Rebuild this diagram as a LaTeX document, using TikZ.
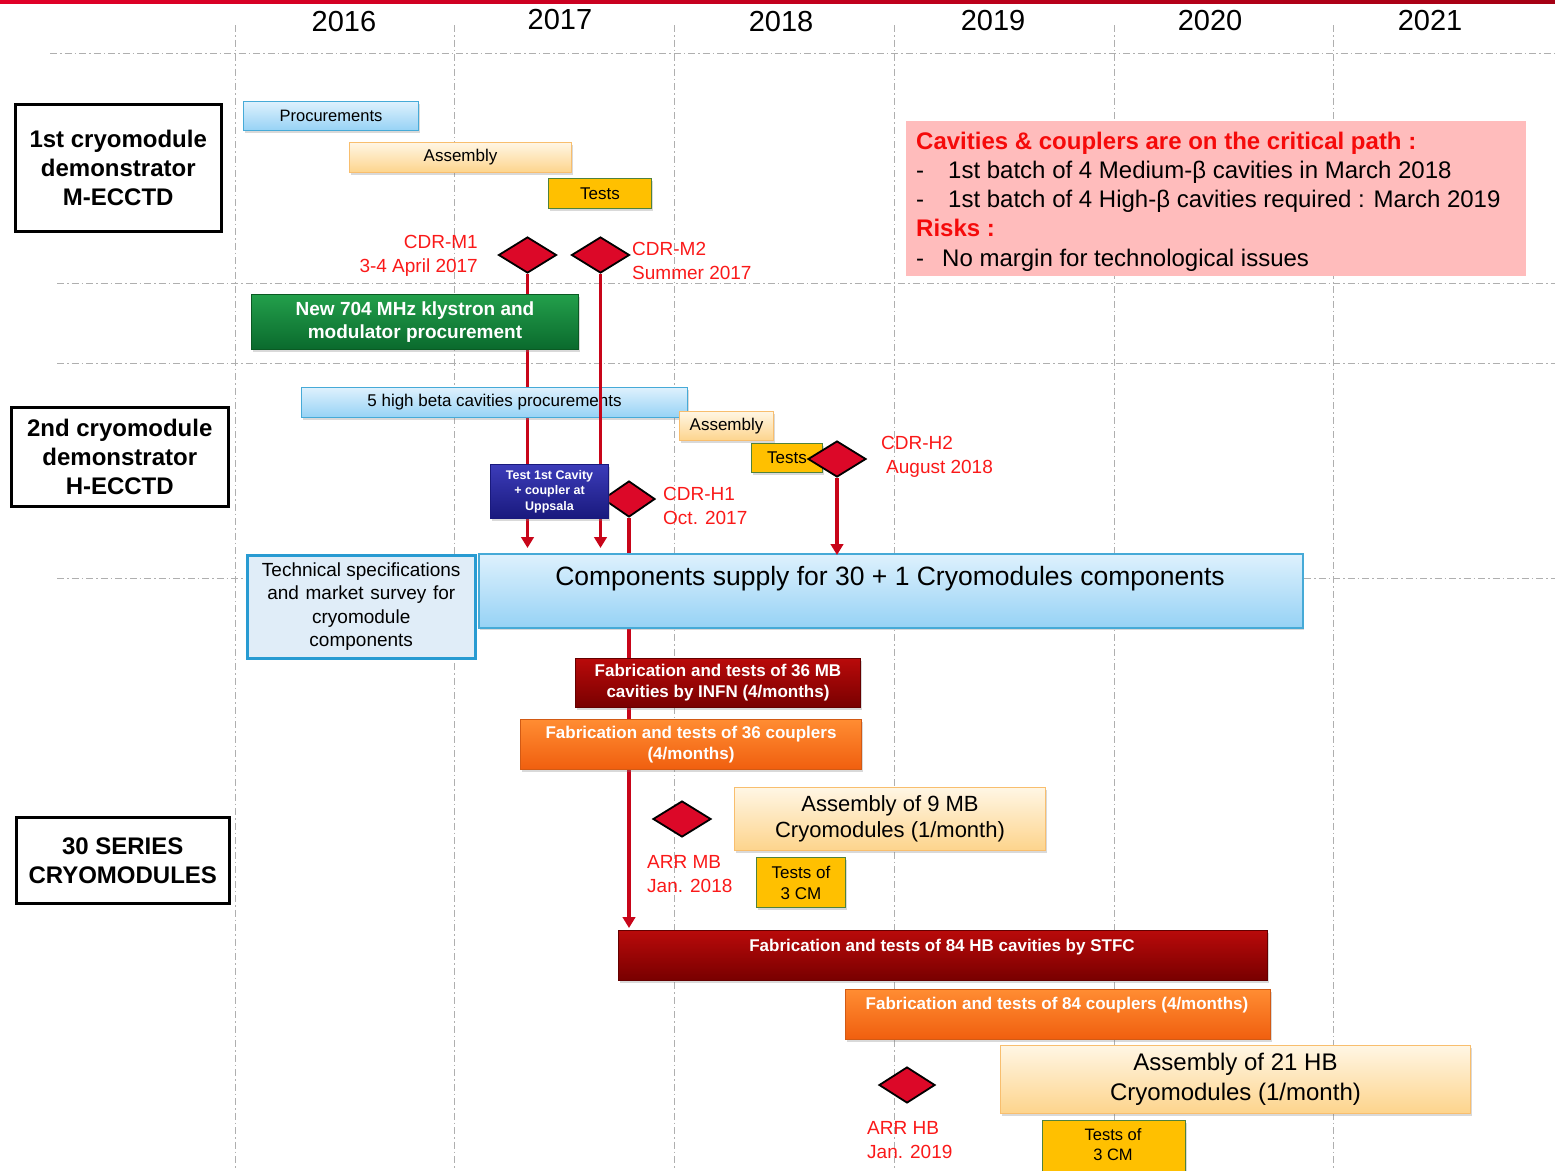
\documentclass[tikz,border=0pt]{standalone}
\usepackage{fontspec}
\setmainfont{Liberation Sans}
\usetikzlibrary{shapes.geometric,arrows.meta,shadows}
\definecolor{gridgray}{RGB}{175,175,175}
\definecolor{lbtop}{RGB}{222,241,253}
\definecolor{lbbot}{RGB}{150,210,245}
\definecolor{lbborder}{RGB}{70,170,215}
\definecolor{lotop}{RGB}{255,246,228}
\definecolor{lobot}{RGB}{253,212,140}
\definecolor{loborder}{RGB}{248,190,110}
\definecolor{gold}{RGB}{255,192,0}
\definecolor{goldborder}{RGB}{80,130,60}
\definecolor{grtop}{RGB}{35,160,75}
\definecolor{grbot}{RGB}{10,105,45}
\definecolor{grborder}{RGB}{10,90,35}
\definecolor{drtop}{RGB}{185,10,10}
\definecolor{drbot}{RGB}{120,0,0}
\definecolor{drborder}{RGB}{100,0,0}
\definecolor{ortop}{RGB}{255,140,50}
\definecolor{orbot}{RGB}{240,95,15}
\definecolor{orborder}{RGB}{210,90,20}
\definecolor{bltop}{RGB}{60,60,185}
\definecolor{blbot}{RGB}{25,25,125}
\definecolor{msred}{RGB}{220,8,40}
\definecolor{labred}{RGB}{250,25,25}
\definecolor{arrred}{RGB}{200,5,25}
\definecolor{critfill}{RGB}{255,188,188}
\definecolor{critred}{RGB}{245,10,10}
\definecolor{topredA}{RGB}{225,0,40}
\definecolor{topredB}{RGB}{165,0,20}
\definecolor{techfill}{RGB}{224,237,248}
\definecolor{techborder}{RGB}{40,155,210}
\newcommand\fz[2]{\fontsize{#1pt}{#2pt}\selectfont}
\tikzset{
  gridline/.style={draw=gridgray, line width=1pt, dash pattern=on 7pt off 3pt on 1.5pt off 3pt},
  bar/.style={draw, inner sep=0pt, anchor=north west, line width=1pt, align=center,
    drop shadow={shadow xshift=1.5pt, shadow yshift=-2pt, opacity=0.3}},
  lbluebar/.style={bar, draw=lbborder, top color=lbtop, bottom color=lbbot},
  lorangebar/.style={bar, draw=loborder, top color=lotop, bottom color=lobot},
  goldbar/.style={bar, draw=goldborder, fill=gold},
  greenbar/.style={bar, draw=grborder, top color=grtop, bottom color=grbot, text=white, font=\bfseries\fz{19}{23}},
  darkredbar/.style={bar, draw=drborder, top color=drtop, bottom color=drbot, text=white, font=\bfseries\fz{17}{21}},
  orangebar/.style={bar, draw=orborder, top color=ortop, bottom color=orbot, text=white, font=\bfseries\fz{17}{21}},
  bluebar/.style={bar, draw=blbot, top color=bltop, bottom color=blbot, text=white, font=\bfseries\fz{12.5}{15.5}},
  sidebox/.style={draw=black, line width=2.5pt, inner sep=0pt, anchor=north west, align=center, font=\bfseries\fz{24}{29}},
  milestone/.style={diamond, draw=black, line width=1.8pt, fill=msred, inner sep=0pt, minimum width=58pt, minimum height=36pt},
  mslabel/.style={text=labred, font=\fz{19}{24}, inner sep=0pt},
  redarrow/.style={draw=arrred, line width=3.6pt, -{Triangle[length=11pt,width=12.5pt]}},
  crittext/.style={anchor=base west, inner sep=0pt, font=\fz{24}{28}},
  crithead/.style={anchor=base west, inner sep=0pt, text=critred, font=\bfseries\fz{24}{28}},
}
\begin{document}
\begin{tikzpicture}[x=1pt,y=-1pt]
\useasboundingbox (0,0) rectangle (1555,1170);
% top red rule
\fill[left color=topredA, right color=topredB] (0,0) rectangle (1555,3);
% grid
\foreach \xx in {235,454,674,894,1114,1333} \draw[gridline] (\xx,25) -- (\xx,1170);
\draw[gridline] (50,53) -- (1555,53);
\foreach \yy in {283,363,578} \draw[gridline] (57,\yy) -- (1555,\yy);
% years
\foreach \yr/\xx/\yb in {2016/344/31,2017/560/29,2018/781/31,2019/993/30,2020/1210/30,2021/1430/30}
  \node[font=\fz{29}{32}, anchor=base, inner sep=0pt] (yr\yr) at (\xx,\yb) {\yr};
% side boxes
\node[sidebox, minimum width=206pt, minimum height=127pt] (mecctd) at (14,103) {1st cryomodule\\demonstrator\\M-ECCTD};
\node[sidebox, minimum width=217pt, minimum height=99pt] (hecctd) at (10,406) {2nd cryomodule\\demonstrator\\H-ECCTD};
\node[sidebox, minimum width=213pt, minimum height=86pt] (series) at (15,816) {30 SERIES\\CRYOMODULES};
% critical path callout
\node[fill=critfill, inner sep=0pt, anchor=north west, minimum width=620pt, minimum height=155pt] (crit) at (906,121) {};
\node[crithead] (c1) at (916,149) {Cavities \& couplers are on the critical path :};
\node[crittext] (c2d) at (916,178) {-};
\node[crittext] (c2) at (948,178) {1st batch of 4 Medium-β cavities in March 2018};
\node[crittext] (c3d) at (916,207) {-};
\node[crittext] (c3) at (948,207) {1st batch of 4 High-β cavities required : March 2019};
\node[crithead] (c4) at (916,236) {Risks :};
\node[crittext] (c5d) at (916,266) {-};
\node[crittext] (c5) at (942,266) {No margin for technological issues};
% M-ECCTD bars
\node[lbluebar, minimum width=175pt, minimum height=29pt, font=\fz{16.5}{20}] (proc1) at (243,101) {Procurements};
\node[lorangebar, minimum width=222pt, minimum height=30pt, font=\fz{17}{20}] (asm1) at (349,142) {Assembly};
\node[goldbar, minimum width=103pt, minimum height=30pt, font=\fz{17}{20}] (tests1) at (548,178) {Tests};
% milestones
\node[milestone] (cdrm1) at (527.5,255) {};
\node[milestone] (cdrm2) at (600.5,255) {};
\node[milestone, minimum width=52pt] (cdrh1) at (629,499) {};
\node[mslabel, anchor=east, align=right] (cdrm1l) at (478,256) {CDR-M1\\3-4 April 2017};
\node[mslabel, anchor=west, align=left] (cdrm2l) at (632,261) {CDR-M2\\Summer 2017};
\node[mslabel, anchor=west, align=left] (cdrh1l) at (663,506) {CDR-H1\\Oct. 2017};
% lower bars that the H1 line targets
\node[darkredbar, minimum width=649pt, minimum height=50pt] (fab84) at (618,930) {};
\node[text=white, font=\bfseries\fz{17}{21}, anchor=base, inner sep=0pt] (fab84t) at (942,951) {Fabrication and tests of 84 HB cavities by STFC};
% H1 line (behind the boxes it crosses)
\draw[redarrow, shorten >=2pt] (cdrh1.south) -- (cdrh1.south |- fab84.north);
% components and series bars
\node[lbluebar, line width=1.5pt, minimum width=824pt, minimum height=74pt] (comp) at (478,553) {};
\node[font=\fz{26.5}{30}, anchor=base, inner sep=0pt] (compt) at (890,585) {Components supply for 30 + 1 Cryomodules components};
\node[draw=techborder, line width=2.5pt, fill=techfill, inner sep=0pt, anchor=north west, minimum width=228pt, minimum height=103pt, align=center, font=\fz{19}{23.5}] (tech) at (246,554) {Technical specifications\\\makebox[188pt][s]{and market survey for}\\cryomodule\\components};
\node[darkredbar, minimum width=285pt, minimum height=49pt] (fab36) at (575,658) {Fabrication and tests of 36 MB\\cavities by INFN (4/months)};
\node[orangebar, minimum width=341pt, minimum height=50pt] (cpl36) at (520,719) {Fabrication and tests of 36 couplers\\(4/months)};
% M1 line (behind green, 5HB and test box)
\draw[redarrow, shorten >=5pt] (cdrm1.south) -- (cdrm1.south |- comp.north);
\node[greenbar, minimum width=327pt, minimum height=55pt] (klys) at (251,294) {New 704 MHz klystron and\\modulator procurement};
\node[lbluebar, minimum width=386pt, minimum height=30pt, font=\fz{17}{20}] (hbproc) at (301,387) {5 high beta cavities procurements};
% M2 line (over 5HB bar)
\draw[redarrow, shorten >=5pt] (cdrm2.south) -- (cdrm2.south |- comp.north);
\node[bluebar, minimum width=118pt, minimum height=54pt] (upps) at (490,464) {Test 1st Cavity\\+ coupler at\\Uppsala};
% H-ECCTD assembly/tests
\node[lorangebar, minimum width=94pt, minimum height=29pt, font=\fz{17}{20}] (asm2) at (679,411) {Assembly};
\node[goldbar, minimum width=71pt, minimum height=29pt, font=\fz{17}{20}] (tests2) at (751,443) {Tests};
\node[milestone] (cdrh2) at (837,459) {};
\node[mslabel, anchor=west, align=left] (cdrh2l) at (881,457) {CDR-H2\\\hspace*{5pt}August 2018};
\draw[redarrow, shorten >=-2pt] (cdrh2.south) -- (cdrh2.south |- comp.north);
% MB series
\node[lorangebar, minimum width=311pt, minimum height=63pt, font=\fz{22}{26}] (asm9) at (734,787) {Assembly of 9 MB\\Cryomodules (1/month)};
\node[goldbar, minimum width=89pt, minimum height=50pt, font=\fz{17}{21}] (t3a) at (756,857) {Tests of\\3 CM};
\node[milestone] (arrmb) at (682,819) {};
\node[mslabel, anchor=west, align=left] (arrmbl) at (647,874) {ARR MB\\Jan. 2018};
% HB series
\node[orangebar, minimum width=425pt, minimum height=50pt] (cpl84) at (845,989) {};
\node[text=white, font=\bfseries\fz{17}{21}, anchor=base, inner sep=0pt] (cpl84t) at (1057,1009) {Fabrication and tests of 84 couplers (4/months)};
\node[lorangebar, minimum width=470pt, minimum height=68pt, font=\fz{24}{30}] (asm21) at (1000,1045) {Assembly of 21 HB\\Cryomodules (1/month)};
\node[goldbar, minimum width=143pt, minimum height=56pt] (t3b) at (1042,1120) {};
\node[font=\fz{16.5}{20}, align=center, inner sep=0pt] (t3bt) at (1113,1145) {Tests of\\3 CM};
\node[milestone, minimum width=56pt] (arrhb) at (907,1085) {};
\node[mslabel, anchor=west, align=left] (arrhbl) at (867,1140) {ARR HB\\Jan. 2019};
\end{tikzpicture}
\end{document}
